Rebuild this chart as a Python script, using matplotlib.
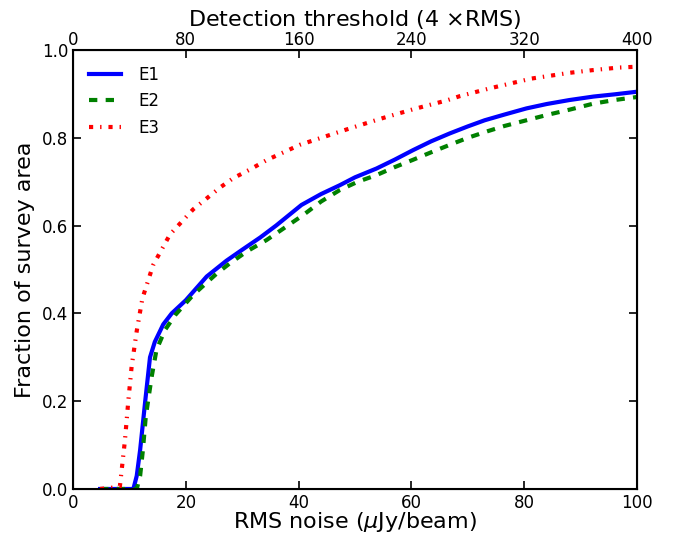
import numpy as np
import matplotlib
matplotlib.use("Agg")
import matplotlib.pyplot as plt

# curves (RMS noise in uJy/beam vs fraction of area)
e1_x = [4.8, 10.7, 11.3, 11.9, 12.8, 13.65, 14.5, 16, 17.5, 20, 23.7, 27.2, 30, 33.2, 36,
        40.5, 44, 47.3, 50, 53.8, 57, 60.3, 63.5, 66.8, 70, 73, 76.5, 80.4, 84, 88, 92.3, 96, 100]
e1_y = [0, 0, 0.03, 0.089, 0.2, 0.30, 0.335, 0.375, 0.40, 0.43, 0.484, 0.52, 0.545, 0.573, 0.60,
        0.647, 0.672, 0.692, 0.71, 0.730, 0.75, 0.772, 0.792, 0.81, 0.826, 0.84, 0.853, 0.867,
        0.877, 0.886, 0.894, 0.899, 0.905]

e2_x = [4.8, 11.3, 11.9, 12.4, 12.9, 13.95, 14.8, 16.3, 18.1, 21.3, 25.5, 27.8, 30.8, 34.3,
        37.5, 40.8, 44, 47.3, 50.5, 53.8, 57, 60.3, 63.5, 66.8, 70, 73.5, 76.5, 80.4, 84, 88,
        92.3, 96, 100]
e2_y = [0, 0, 0.03, 0.09, 0.165, 0.256, 0.317, 0.362, 0.396, 0.442, 0.491, 0.514, 0.541, 0.567,
        0.595, 0.624, 0.655, 0.681, 0.70, 0.715, 0.733, 0.75, 0.767, 0.784, 0.80, 0.815, 0.827,
        0.84, 0.852, 0.864, 0.878, 0.886, 0.893]

e3_x = [4.8, 8.3, 9.2, 9.8, 10.4, 11.3, 12.3, 14.2, 17.2, 21.3, 26.1, 28.4, 31.4, 34.3, 40.2,
        44, 48.5, 54.4, 60.3, 66.2, 68.6, 74, 81.3, 88, 92, 96.7, 100]
e3_y = [0, 0.005, 0.11, 0.2, 0.28, 0.36, 0.434, 0.51, 0.58, 0.637, 0.687, 0.708, 0.728, 0.749,
        0.784, 0.80, 0.819, 0.843, 0.865, 0.885, 0.895, 0.913, 0.935, 0.948, 0.954, 0.96, 0.962]

top_ticks = [0, 80, 160, 240, 320, 400]

plt.rcParams['lines.scale_dashes'] = False

fig = plt.figure(figsize=(6.73, 5.35), dpi=100)
ax = fig.add_axes([0.1085, 0.086, 0.838, 0.8205])

ax.plot(e1_x, e1_y, color='b', lw=3, label='E1')
ax.plot(e2_x, e2_y, color='g', lw=3, linestyle=(0, (6, 6)), label='E2')
ax.plot(e3_x, e3_y, color='r', lw=3, linestyle=(0, (3, 5, 1, 5)), label='E3')

ax.set_xlim(0, 100)
ax.set_ylim(0, 1.0)
ax.set_xticks([0, 20, 40, 60, 80, 100])
ax.set_yticks([0.0, 0.2, 0.4, 0.6, 0.8, 1.0])
ax.tick_params(direction='in', length=6, width=1.2, labelsize=12, right=True)
ax.set_xlabel(r'RMS noise ($\mu$Jy/beam)', fontsize=16, labelpad=-1)
ax.set_ylabel('Fraction of survey area', fontsize=16, labelpad=5)
for s in ax.spines.values():
    s.set_linewidth(1.5)

top = ax.twiny()
top.set_xlim(0, 400)
top.set_xticks(top_ticks)
top.tick_params(direction='in', length=6, width=1.2, labelsize=12, pad=1)
top.set_xlabel(r'Detection threshold (4 $\times$RMS)', fontsize=16, labelpad=3)

ax.legend(loc='upper left', frameon=False, fontsize=12, handlelength=1.9,
          handletextpad=1.1, borderaxespad=0.55)

fig.savefig('out.png', dpi=100)
